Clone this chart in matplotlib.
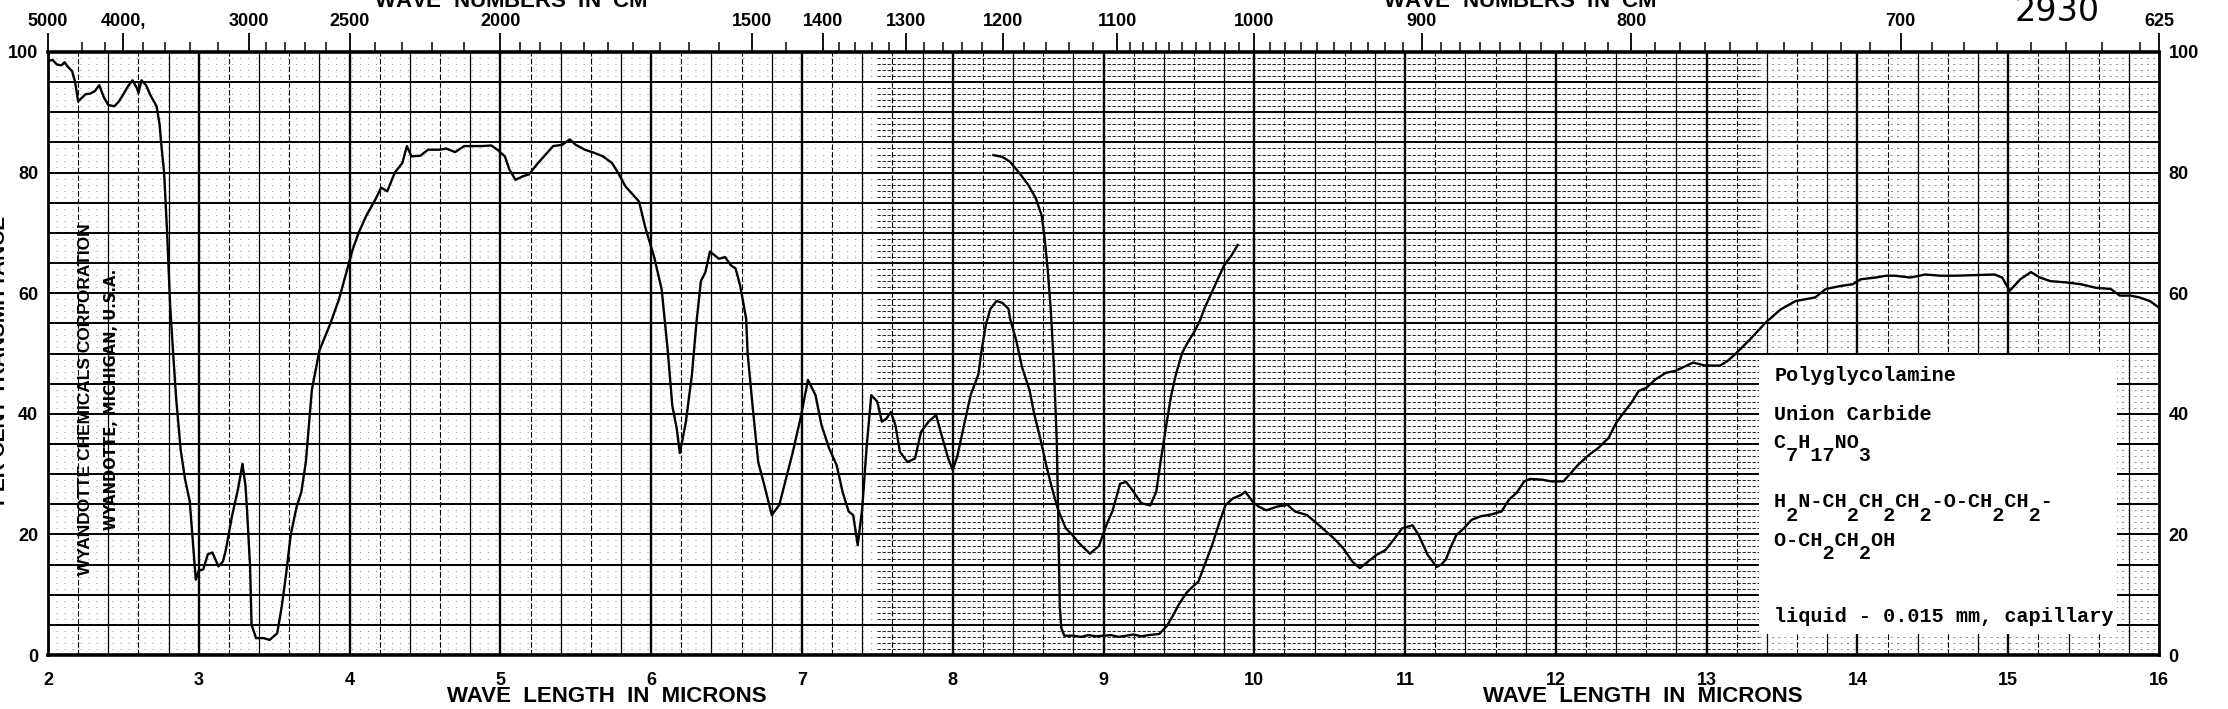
import numpy as np
import matplotlib.pyplot as plt
from matplotlib.patches import Rectangle

plt.rcParams['font.family'] = ['Liberation Sans', 'DejaVu Sans']
plt.rcParams['font.weight'] = 'bold'

# trace 1 (2 - 9.9 microns)
wl_a = [2.00, 2.03, 2.06, 2.09, 2.11, 2.13, 2.16, 2.18, 2.20, 2.22, 2.25, 2.28, 2.31, 2.34,
        2.37, 2.40, 2.44, 2.47, 2.50, 2.53, 2.56, 2.59, 2.60, 2.62, 2.65, 2.68, 2.72, 2.74,
        2.75, 2.77, 2.79, 2.81, 2.83, 2.85, 2.88, 2.91, 2.94, 2.96, 2.98, 3.00, 3.03, 3.06,
        3.09, 3.13, 3.16, 3.18, 3.22, 3.26, 3.29, 3.31, 3.32, 3.34, 3.35, 3.38, 3.43, 3.47,
        3.52, 3.55, 3.58, 3.61, 3.65, 3.68, 3.71, 3.75, 3.80, 3.87, 3.93, 3.99, 4.02, 4.06,
        4.11, 4.17, 4.21, 4.25, 4.30, 4.35, 4.38, 4.41, 4.47, 4.52, 4.60, 4.64, 4.70, 4.76,
        4.82, 4.88, 4.94, 4.98, 5.03, 5.06, 5.10, 5.15, 5.19, 5.24, 5.30, 5.35, 5.41, 5.46,
        5.50, 5.56, 5.62, 5.68, 5.74, 5.78, 5.83, 5.87, 5.92, 5.96, 6.02, 6.07, 6.11, 6.14,
        6.17, 6.19, 6.21, 6.23, 6.27, 6.30, 6.33, 6.36, 6.39, 6.42, 6.45, 6.49, 6.53, 6.56,
        6.59, 6.63, 6.64, 6.67, 6.71, 6.75, 6.80, 6.85, 6.90, 6.94, 6.99, 7.04, 7.09, 7.13,
        7.18, 7.23, 7.27, 7.31, 7.34, 7.37, 7.40, 7.43, 7.46, 7.50, 7.53, 7.56, 7.59, 7.62,
        7.65, 7.70, 7.75, 7.79, 7.84, 7.89, 7.92, 7.97, 8.00, 8.03, 8.08, 8.12, 8.17, 8.19,
        8.22, 8.25, 8.29, 8.33, 8.37, 8.38, 8.42, 8.46, 8.51, 8.54, 8.58, 8.62, 8.66, 8.70,
        8.75, 8.79, 8.84, 8.91, 8.97, 9.02, 9.06, 9.11, 9.15, 9.19, 9.25, 9.31, 9.35, 9.38,
        9.42, 9.45, 9.48, 9.52, 9.56, 9.60, 9.64, 9.67, 9.73, 9.77, 9.80, 9.85, 9.89]
tr_a = [98.5, 98.7, 97.9, 97.8, 98.3, 97.6, 96.8, 95.0, 91.8, 92.3, 93.0, 93.1, 93.5, 94.5,
        92.5, 91.2, 91.0, 91.8, 93.0, 94.3, 95.3, 94.0, 93.2, 95.3, 94.5, 92.8, 91.0, 88.0,
        85.0, 80.0, 70.0, 58.0, 50.0, 42.5, 34.0, 29.0, 25.5, 19.0, 12.5, 14.0, 14.2, 16.7,
        17.0, 14.7, 15.5, 17.5, 23.0, 27.5, 31.7, 28.0, 24.0, 14.7, 5.0, 2.8, 2.8, 2.5,
        3.6, 8.0, 13.6, 20.0, 24.7, 27.0, 32.0, 44.0, 50.5, 54.8, 59.0, 64.5, 67.2, 70.0,
        72.8, 75.5, 77.5, 76.9, 80.0, 81.6, 84.4, 82.7, 82.8, 83.8, 83.8, 84.0, 83.4, 84.4,
        84.4, 84.4, 84.5, 83.8, 82.7, 80.5, 78.8, 79.4, 79.7, 81.3, 83.0, 84.4, 84.6, 85.5,
        84.6, 83.8, 83.3, 82.7, 81.6, 80.0, 77.7, 76.6, 75.2, 71.0, 66.0, 60.6, 50.5, 41.4,
        37.5, 33.5, 36.0, 38.6, 46.4, 55.0, 62.0, 63.5, 66.9, 66.3, 65.7, 66.0, 64.6, 64.1,
        61.3, 55.8, 50.0, 42.0, 32.0, 28.2, 23.2, 24.9, 29.8, 33.7, 39.2, 45.6, 43.1, 38.1,
        34.3, 31.5, 27.0, 23.8, 23.2, 18.2, 24.3, 34.8, 43.1, 42.0, 38.7, 39.2, 40.3, 38.1,
        33.7, 32.0, 32.6, 37.0, 38.7, 39.8, 37.0, 32.6, 30.7, 32.9, 38.7, 43.2, 46.5, 50.3,
        54.8, 57.4, 58.7, 58.4, 57.4, 55.8, 52.3, 47.7, 43.9, 40.0, 36.0, 31.5, 27.5, 24.0,
        21.0, 20.0, 18.5, 16.8, 18.1, 21.6, 23.9, 28.4, 28.7, 27.4, 25.2, 24.8, 27.1, 32.3,
        38.7, 43.2, 46.5, 50.0, 51.9, 53.5, 55.5, 57.5, 60.8, 63.0, 64.6, 66.3, 68.0]

# trace 2 (8.3 - 16 microns)
wl_b = [8.27, 8.33, 8.38, 8.44, 8.50, 8.55, 8.59, 8.61, 8.63, 8.65, 8.67, 8.69, 8.70, 8.71,
        8.72, 8.74, 8.80, 8.85, 8.90, 8.95, 9.00, 9.05, 9.10, 9.15, 9.20, 9.25, 9.30, 9.37,
        9.42, 9.46, 9.50, 9.55, 9.59, 9.63, 9.67, 9.72, 9.77, 9.81, 9.86, 9.91, 9.94, 9.99,
        10.03, 10.08, 10.15, 10.22, 10.27, 10.35, 10.43, 10.53, 10.59, 10.65, 10.70, 10.74,
        10.81, 10.87, 10.93, 10.98, 11.05, 11.09, 11.15, 11.21, 11.24, 11.27, 11.30, 11.34,
        11.39, 11.44, 11.50, 11.57, 11.64, 11.69, 11.74, 11.79, 11.83, 11.90, 11.97, 12.05,
        12.10, 12.15, 12.22, 12.28, 12.35, 12.40, 12.45, 12.50, 12.55, 12.60, 12.66, 12.73,
        12.79, 12.86, 12.91, 12.99, 13.09, 13.14, 13.19, 13.29, 13.39, 13.49, 13.59, 13.72,
        13.79, 13.89, 13.97, 14.02, 14.12, 14.19, 14.25, 14.35, 14.45, 14.55, 14.65, 14.78,
        14.91, 14.96, 15.01, 15.08, 15.15, 15.21, 15.28, 15.38, 15.48, 15.58, 15.68, 15.74,
        15.81, 15.87, 15.94, 16.00]
tr_b = [82.9, 82.6, 81.8, 80.0, 78.0, 75.8, 72.9, 69.0, 63.9, 57.4, 48.4, 35.5, 22.6, 8.0,
        4.5, 3.2, 3.2, 3.0, 3.3, 3.1, 3.2, 3.3, 3.0, 3.2, 3.4, 3.1, 3.3, 3.5,
        4.8, 6.5, 8.4, 10.3, 11.3, 12.2, 14.9, 18.2, 22.1, 24.9, 26.0, 26.5, 27.1, 25.4,
        24.6, 24.0, 24.6, 24.9, 23.8, 23.2, 21.5, 19.3, 17.7, 15.5, 14.4, 15.2,
        16.6, 17.4, 19.3, 21.0, 21.5, 19.9, 16.6, 14.6, 15.0, 15.8, 17.7, 19.9,
        21.0, 22.4, 23.0, 23.3, 23.8, 25.8, 26.9, 28.8, 29.2, 29.1, 28.8, 28.8,
        30.2, 31.6, 33.2, 34.3, 36.0, 38.5, 40.2, 41.8, 43.8, 44.3, 45.7, 46.8,
        47.1, 47.9, 48.5, 48.0, 48.0, 48.8, 49.9, 52.4, 55.1, 57.3, 58.7, 59.3,
        60.7, 61.2, 61.5, 62.3, 62.6, 62.9, 62.9, 62.6, 63.1, 62.9, 62.9, 63.0,
        63.1, 62.6, 60.4, 62.3, 63.5, 62.6, 62.0, 61.8, 61.5, 60.9, 60.7, 59.6,
        59.6, 59.3, 58.7, 57.6]

wl_ticks = list(range(2, 17))
pct_ticks = [0, 20, 40, 60, 80, 100]
wn_major = [5000, 4000, 3000, 2500, 2000, 1500, 1400, 1300, 1200, 1100, 1000, 900, 800, 700, 625]
wn_labels = ['5000', '4000,', '3000', '2500', '2000', '1500', '1400', '1300', '1200',
             '1100', '1000', '900', '800', '700', '625']
wn_minor = ([4500, 4200, 3800, 3600, 3400, 3200, 2900, 2800, 2700, 2600,
             2400, 2300, 2200, 2100]
            + list(range(1950, 1500, -50)) + [1450]
            + list(range(1380, 1300, -20)) + list(range(1280, 1200, -20))
            + list(range(1180, 1100, -20)) + list(range(1090, 1000, -10))
            + list(range(990, 900, -10)) + list(range(890, 800, -10))
            + list(range(790, 700, -10)) + list(range(690, 625, -10)))

# '_' marks a typewriter subscript (the next character is dropped half a line)
sample_lines = ['Polyglycolamine', 'Union Carbide', 'C_7H_1_7NO_3',
                'H_2N-CH_2CH_2CH_2-O-CH_2CH_2-', 'O-CH_2CH_2OH',
                'liquid - 0.015 mm, capillary']
sample_y = [45.4, 38.9, 32.2, 22.3, 15.9, 5.4]

W, H = 2228, 709
fig = plt.figure(figsize=(W / 100, H / 100), dpi=100)
ax = fig.add_axes([48 / W, 54 / H, 2111 / W, 603 / H])
ax.set_xlim(2, 16)
ax.set_ylim(0, 100)

# chart paper grid
for x in np.arange(2.2, 15.9, 0.2):
    k = int(round(x * 10)) % 10
    if k == 0:
        ax.axvline(x, color='k', lw=1.7, zorder=1)
    elif k in (4, 8):
        ax.axvline(x, color='k', lw=0.9, zorder=1)
    else:
        ax.axvline(x, color='k', lw=0.8, ls=(0, (5, 2)), zorder=1)
for y in range(5, 100, 5):
    ax.axhline(y, color='k', lw=1.4, zorder=1)
for y in range(1, 100):
    if y % 5 == 0:
        continue
    ax.hlines(y, 7.5, 13.35, color='k', lw=0.6, ls=(0, (4, 2)), zorder=1)
    ax.hlines(y, 2, 7.5, color='k', lw=0.5, ls=(0, (1.5, 10)), alpha=0.6, zorder=1)
    ax.hlines(y, 13.35, 16, color='k', lw=0.5, ls=(0, (3, 6)), alpha=0.6, zorder=1)

# label box
ax.add_patch(Rectangle((13.35, 3.5), 15.72 - 13.35, 46.2, facecolor='white',
                       edgecolor='none', zorder=2))

ax.plot(wl_a, tr_a, color='k', lw=1.7, zorder=3)
ax.plot(wl_b, tr_b, color='k', lw=1.7, zorder=3)

mono = ['Liberation Mono', 'DejaVu Sans Mono']
for s, yv in zip(sample_lines, sample_y):
    main, sub = '', ''
    i = 0
    while i < len(s):
        if s[i] == '_':
            sub += s[i + 1]
            main += ' '
            i += 2
        else:
            main += s[i]
            sub += ' '
            i += 1
    txt = main + '\n' + sub if sub.strip() else main
    ax.text(13.45, yv, txt, family=mono, fontsize=14.5, fontweight='bold',
            va='baseline', ha='left', linespacing=0.62, zorder=4)

for side in ['left', 'right']:
    ax.spines[side].set_linewidth(2.0)
for side in ['top', 'bottom']:
    ax.spines[side].set_linewidth(2.6)

ax.set_xticks(wl_ticks)
ax.set_xticklabels([str(v) for v in wl_ticks])
ax.set_yticks(pct_ticks)
ax.set_yticklabels([str(v) for v in pct_ticks])
ax.tick_params(axis='x', length=0, pad=12, labelsize=13)
ax.tick_params(axis='y', length=0, pad=7, labelsize=13, labelright=True)

top = ax.secondary_xaxis('top', functions=(lambda x: 1e4 / x, lambda k: 1e4 / k))
top.set_xticks(wn_major)
top.set_xticklabels(wn_labels)
top.set_xticks(wn_minor, minor=True)
top.tick_params(which='major', direction='out', length=14, width=1.3, pad=2, labelsize=13)
top.tick_params(which='minor', direction='out', length=7, width=1.1)
top.spines['top'].set_visible(False)


def fx(px):
    return px / W


def fy(py):
    return 1 - py / H


fig.text(fx(607), fy(697), 'WAVE  LENGTH  IN  MICRONS', ha='center', va='center', fontsize=16)
fig.text(fx(1643), fy(697), 'WAVE  LENGTH  IN  MICRONS', ha='center', va='center', fontsize=16)
fig.text(fx(523), fy(8), 'WAVE  NUMBERS  IN  CM$^{-1}$', ha='center', va='baseline', fontsize=16)
fig.text(fx(1532), fy(8), 'WAVE  NUMBERS  IN  CM$^{-1}$', ha='center', va='baseline', fontsize=16)
fig.text(fx(2057), fy(21), '2930', ha='center', va='baseline', fontsize=24,
         fontweight='normal', family=['Liberation Sans Narrow', 'DejaVu Sans'])
fig.text(fx(0), fy(360), 'PER CENT TRANSMITTANCE', rotation=90, ha='center', va='center',
         fontsize=15)
fig.text(fx(86), fy(399), 'WYANDOTTE CHEMICALS CORPORATION', rotation=90,
         ha='center', va='center', fontsize=12.5)
fig.text(fx(112), fy(399), 'WYANDOTTE, MICHIGAN, U.S.A.', rotation=90,
         ha='center', va='center', fontsize=10.5, family=['DejaVu Sans'])

fig.savefig('out.png', dpi=100)
